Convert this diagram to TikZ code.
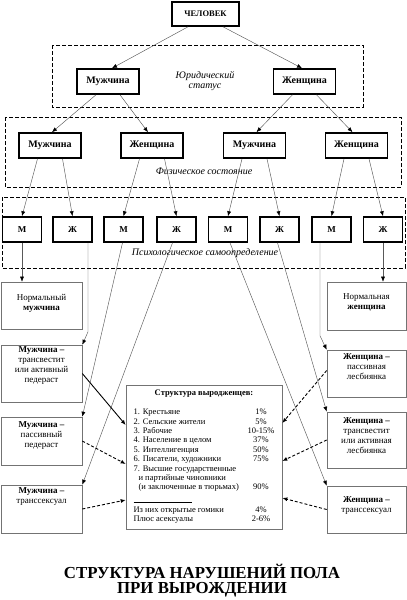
\documentclass[tikz,border=0pt]{standalone}
\usepackage{fontspec}
\setmainfont{Liberation Serif}
\usetikzlibrary{arrows.meta,calc}
\newcommand{\lowstrut}[1]{\rule[-#1]{0pt}{#1}}

\begin{document}
\begin{tikzpicture}[x=1pt, y=-1pt, >={Latex[length=5pt,width=4pt,color=black]},
  bigbox/.style={draw, line width=1.6pt, minimum width=62pt, minimum height=25pt, inner sep=0pt, font=\fontsize{10}{11}\selectfont\bfseries},
  psybox/.style={draw, line width=1.6pt, minimum width=39pt, minimum height=25pt, inner sep=0pt, font=\fontsize{9}{10}\selectfont\bfseries},
  outbox/.style={draw=black!55, line width=0.6pt, align=center, inner sep=0pt, font=\fontsize{9}{10}\selectfont},
  dashframe/.style={line width=0.9pt, dash pattern=on 4pt off 2pt},
  rowlabel/.style={align=center, font=\fontsize{10}{10.5}\selectfont\itshape},
  link/.style={->, black!65, line width=0.45pt},
  tolink/.style={->, line width=0.9pt, dash pattern=on 3pt off 2pt}]
  \useasboundingbox (0,0) rectangle (407,600);

  % Top: human
  \node[bigbox, minimum width=67pt, minimum height=24pt, font=\fontsize{8.5}{9}\selectfont\bfseries] (chel) at (205.5,14) {ЧЕЛОВЕК};

  % Level 1: legal status
  \draw[dashframe] (52,45) rectangle (363,107);
  \node[rowlabel] (jur) at (205,81) {Юридический\\статус};
  \node[bigbox] (man1) at (108,81.5) {Мужчина};
  \node[bigbox] (wom1) at (304.5,81.5) {Женщина};
  \draw[link] ([xshift=-17.5pt]chel.south) -- ([xshift=4pt]man1.north);
  \draw[link] ([xshift=17.5pt]chel.south) -- ([xshift=-2.5pt]wom1.north);

  % Level 2: physical state
  \draw[dashframe] (5,117) rectangle (401,187);
  \node[rowlabel] (phys) at (204,171) {Физическое состояние};
  \node[bigbox] (man2) at (50,145.5) {Мужчина};
  \node[bigbox] (wom2) at (152,145.5) {Женщина};
  \node[bigbox] (man3) at (254.5,145.5) {Мужчина};
  \node[bigbox] (wom3) at (356.5,145.5) {Женщина};
  \draw[link] ([xshift=-12pt]man1.south) -- ([xshift=2pt]man2.north);
  \draw[link] ([xshift=12pt]man1.south) -- ([xshift=-4pt]wom2.north);
  \draw[link] ([xshift=-12pt]wom1.south) -- ([xshift=2pt]man3.north);
  \draw[link] ([xshift=12pt]wom1.south) -- ([xshift=-4pt]wom3.north);

  % Level 3: psychological self-identification
  \draw[dashframe] (2,197) rectangle (405,268);
  \node[rowlabel] (psy) at (205,253) {Психологическое самоопределение};
  \node[psybox] (psy1) at (22,229.5) {М};
  \node[psybox] (psy2) at (72.5,229.5) {Ж};
  \node[psybox] (psy3) at (123.5,229.5) {М};
  \node[psybox] (psy4) at (176.5,229.5) {Ж};
  \node[psybox] (psy5) at (228,229.5) {М};
  \node[psybox] (psy6) at (279.5,229.5) {Ж};
  \node[psybox] (psy7) at (331.5,229.5) {М};
  \node[psybox] (psy8) at (383,229.5) {Ж};
  \draw[link] ([xshift=-12.5pt]man2.south) -- (psy1.north);
  \draw[link] ([xshift=12.5pt]man2.south) -- (psy2.north);
  \draw[link] ([xshift=-12.5pt]wom2.south) -- (psy3.north);
  \draw[link] ([xshift=12.5pt]wom2.south) -- (psy4.north);
  \draw[link] ([xshift=-12.5pt]man3.south) -- (psy5.north);
  \draw[link] ([xshift=12.5pt]man3.south) -- (psy6.north);
  \draw[link] ([xshift=-12.5pt]wom3.south) -- (psy7.north);
  \draw[link] ([xshift=12.5pt]wom3.south) -- (psy8.north);

  % Outcomes, left column
  \node[outbox, minimum width=81pt, minimum height=47pt] (normm) at (41.5,305.5) {Нормальный\\\textbf{мужчина}\lowstrut{6pt}};
  \node[outbox, minimum width=81pt, minimum height=57pt] (transm) at (41.5,373.5) {\textbf{Мужчина –}\\трансвестит\\или активный\\педераст\lowstrut{17pt}};
  \node[outbox, minimum width=81pt, minimum height=48pt] (pasm) at (41.5,441) {\textbf{Мужчина –}\\пассивный\\педераст\lowstrut{12pt}};
  \node[outbox, minimum width=81pt, minimum height=48pt] (transsm) at (41.5,509) {\textbf{Мужчина –}\\транссексуал\lowstrut{26pt}};

  % Outcomes, right column
  \node[outbox, minimum width=79pt, minimum height=48pt] (normw) at (366.5,306) {Нормальная\\\textbf{женщина}\lowstrut{8pt}};
  \node[outbox, minimum width=79pt, minimum height=47pt] (wpas) at (366.5,373.5) {\textbf{Женщина –}\\пассивная\\лесбиянка\lowstrut{13pt}};
  \node[outbox, minimum width=79pt, minimum height=56pt] (wtransv) at (366.5,440) {\textbf{Женщина –}\\трансвестит\\или активная\\лесбиянка\lowstrut{9pt}};
  \node[outbox, minimum width=79pt, minimum height=47pt] (womtrans) at (366.5,509.5) {\textbf{Женщина –}\\транссексуал\lowstrut{10pt}};

  \draw[link] (psy1.south) -- (psy1.south |- normm.north);
  \draw[link] ([xshift=15.5pt]psy2.south) -- ++(0,89) -- (transm.north east);
  \draw[link] ([xshift=-1pt]psy3.south) -- (pasm.north east);
  \draw[link] ([xshift=-4pt]psy4.south) -- (transsm.north east);
  \draw[link] ([xshift=2pt]psy5.south) -- (womtrans.north west);
  \draw[link] ([xshift=-2pt]psy6.south) -- (wtransv.north west);
  \draw[link] ([xshift=-11.5pt]psy7.south) -- ++(0,93) -- (wpas.north west);
  \draw[link] (psy8.south) -- (psy8.south |- normw.north);

  % Structure of degenerates
  \node[outbox, minimum width=156pt, minimum height=144pt, font=\fontsize{8.5}{9.4}\selectfont] (struct) at (204,457) {%
    \begin{tabular}{@{}p{114pt}@{}c@{}}
      \multicolumn{2}{c}{\textbf{Структура выродженцев:}}\\[9.4pt]
      1. Крестьяне & 1\%\\
      2. Сельские жители & 5\%\\
      3. Рабочие & 10-15\%\\
      4. Население в целом & 37\%\\
      5. Интеллигенция & 50\%\\
      6. Писатели, художники & 75\%\\
      7. Высшие государственные & \\
      \hspace{5pt}и партийные чиновники & \\
      \hspace{5pt}(и заключенные в тюрьмах) & 90\%\\[3.6pt]
      \rule{58pt}{0.5pt} & \\
      Из них открытые гомики & 4\%\\
      Плюс асексуалы & 2-6\%
    \end{tabular}};

  \draw[->, line width=0.9pt] (transm.east) -- ([yshift=32pt]struct.west);
  \draw[tolink] ([yshift=3pt]wpas.west) -- ([yshift=34pt]struct.east);
  \draw[tolink] (pasm.east) -- ([yshift=-7pt]struct.west);
  \draw[tolink] (wtransv.west) -- ([yshift=-4pt]struct.east);
  \draw[tolink] (transsm.east) -- ([yshift=-43pt]struct.west);
  \draw[tolink] (womtrans.west) -- ([yshift=-41pt]struct.east);

  % Title
  \node[align=center, font=\fontsize{16.8}{15.5}\selectfont\bfseries] (ttl) at (202,580.5) {СТРУКТУРА НАРУШЕНИЙ ПОЛА\\ПРИ ВЫРОЖДЕНИИ};
\end{tikzpicture}
\end{document}
